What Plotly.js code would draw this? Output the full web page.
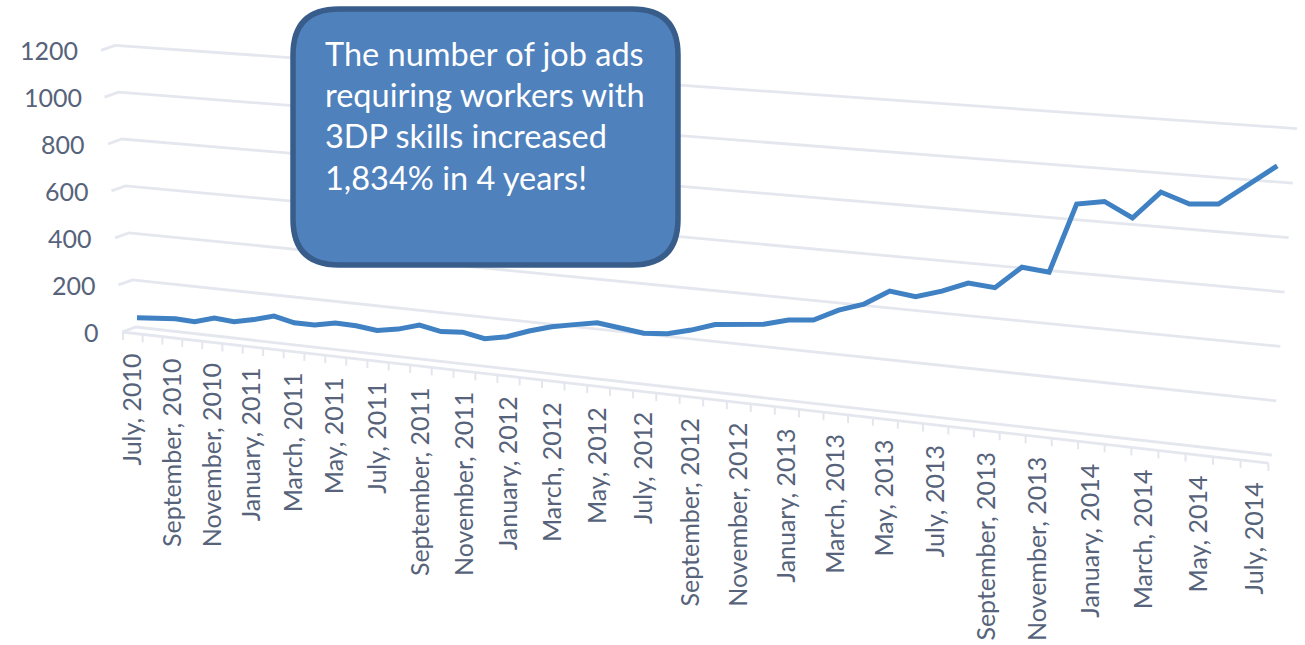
<!DOCTYPE html>
<html>
<head>
<meta charset="utf-8">
<script src="https://cdn.plot.ly/plotly-3.0.1.min.js"></script>
<style>html,body{margin:0;padding:0;background:#fff}#chart{width:1305px;height:645px}</style>
</head>
<body>
<div id="chart"></div>
<script>
// ---- data ----
const jobAds = [40,49,54,51,75,69,87,111,92,92,110,108,98,113,139,122,129,112,130,163,190,208,225,214,203,211,235,267,279,288,314,324,372,405,465,453,484,524,516,603,594,859,877,824,929,893,902,978,1059];
const tickLabels = ["July, 2010","September, 2010","November, 2010","January, 2011","March, 2011","May, 2011","July, 2011","September, 2011","November, 2011","January, 2012","March, 2012","May, 2012","July, 2012","September, 2012","November, 2012","January, 2013","March, 2013","May, 2013","July, 2013","September, 2013","November, 2013","January, 2014","March, 2014","May, 2014","July, 2014"];
const gridValues = [0,200,400,600,800,1000,1200];
const calloutLines = ["The number of job ads","requiring workers with","3DP skills increased","1,834% in 4 years!"];

// ---- perspective projection of the chart's back wall onto the page ----
const monthX = i => 137 + 19*i/(1 - 0.00417*i);
const wallY = (x,v) => 327 + 0.1127*(x-136) - (v/200)*(46.7 + 0.00704*(x-136));
const leftX = v => 136 - v*21/1200;
const rightX = v => 1272 + v*25/1200;
const tickX = j => 123 + 19.55*j/(1 - 0.00334*j);
const frontY = x => 332 + 0.1143*(x-122);

const GRID = '#e5e7ef', TICK = '#e3e6ec', TEXT = '#56637a';
const FONT = 'Lato, Carlito, sans-serif';
const traces = [];

// gridlines with the small side-wall kink
const gx=[], gy=[];
gridValues.forEach(v=>{
  const xl=leftX(v), xr=rightX(v);
  const yl=wallY(xl,v), yr=wallY(xr,v);
  gx.push(xl-14,xl,xr,null); gy.push(yl+5,yl,yr,null);
});
traces.push({type:'scatter',mode:'lines',name:'gridlines',x:gx,y:gy,hoverinfo:'skip',line:{color:GRID,width:2.8}});

// floor front edge
traces.push({type:'scatter',mode:'lines',name:'floor',x:[122,tickX(49)],y:[frontY(122),frontY(tickX(49))],hoverinfo:'skip',line:{color:GRID,width:2.8}});

// category ticks
const tx=[], ty=[];
for(let j=0;j<50;j++){const x=tickX(j); const y=frontY(x); tx.push(x,x,null); ty.push(y,y+8,null);}
traces.push({type:'scatter',mode:'lines',name:'ticks',x:tx,y:ty,hoverinfo:'skip',line:{color:TICK,width:2}});

// the series
traces.push({type:'scatter',mode:'lines',name:'Job ads',
  x:jobAds.map((_,i)=>monthX(i)),
  y:jobAds.map((v,i)=>wallY(monthX(i),v)),
  line:{color:'#3f81c2',width:5,shape:'linear'}});

// ---- text ----
const annotations=[];
gridValues.forEach(v=>{
  const xl=leftX(v);
  annotations.push({xref:'x',yref:'y',x:xl-35,y:wallY(xl,v)+5,text:String(v),showarrow:false,xanchor:'right',yanchor:'middle',
    font:{family:FONT,size:25,color:TEXT}});
});
tickLabels.forEach((t,k)=>{
  const x=(tickX(2*k)+tickX(2*k+1))/2;
  annotations.push({xref:'x',yref:'y',x:x-2,y:frontY(x)+18.5,text:t,showarrow:false,textangle:-90,xanchor:'center',yanchor:'top',
    font:{family:FONT,size:25,color:TEXT}});
});
const calloutY=[53,94,135,177];
calloutLines.forEach((t,i)=>{
  annotations.push({xref:'x',yref:'y',x:323,y:calloutY[i],text:t,showarrow:false,xanchor:'left',yanchor:'middle',
    font:{family:FONT,size:32.5,color:'#ffffff'}});
});

// callout box
const bx0=293,bx1=678,by0=9,by1=265,r=46;
const boxPath=`M ${bx0+r} ${by0} L ${bx1-r} ${by0} Q ${bx1} ${by0} ${bx1} ${by0+r} L ${bx1} ${by1-r} Q ${bx1} ${by1} ${bx1-r} ${by1} L ${bx0+r} ${by1} Q ${bx0} ${by1} ${bx0} ${by1-r} L ${bx0} ${by0+r} Q ${bx0} ${by0} ${bx0+r} ${by0} Z`;

const layout={
  width:1305,height:645,margin:{l:0,r:0,t:0,b:0},
  paper_bgcolor:'#fff',plot_bgcolor:'#fff',showlegend:false,
  xaxis:{range:[0,1305],visible:false,fixedrange:true},
  yaxis:{range:[645,0],visible:false,fixedrange:true},
  shapes:[{type:'path',path:boxPath,xref:'x',yref:'y',layer:'above',fillcolor:'#4f81bd',line:{color:'#385d8a',width:5.5}}],
  annotations:annotations
};
Plotly.newPlot('chart',traces,layout,{displayModeBar:false,staticPlot:true});
</script>
</body>
</html>
